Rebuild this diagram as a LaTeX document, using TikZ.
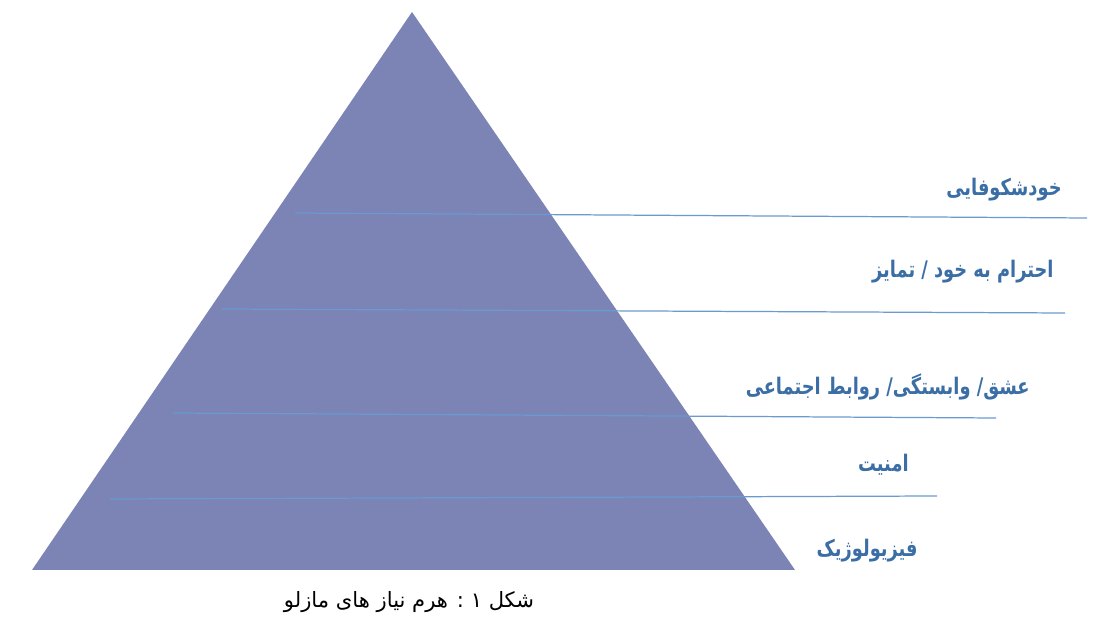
\documentclass[tikz,border=0pt]{standalone}
\usepackage{fontspec}
\usepackage{tikz}
\usetikzlibrary{positioning}
\newfontfamily\farsifont[Script=Arabic]{DejaVu Sans}
\newfontfamily\levelfont[Script=Arabic,FakeStretch=0.78]{DejaVu Sans}
\TeXXeTstate=1

\definecolor{pyramidfill}{RGB}{123,132,180}
\definecolor{levelline}{RGB}{106,154,208}
\definecolor{leveltext}{RGB}{58,110,165}

\begin{document}
\begin{tikzpicture}[x=0.02cm,y=-0.02cm,
    level/.style={anchor=east,inner sep=0pt,text=leveltext,font=\levelfont\bfseries\fontsize{13}{15}\selectfont},
    divider/.style={draw=levelline,line width=0.7pt}]

  \useasboundingbox (0,0) rectangle (1103,631);

  \fill [pyramidfill] (412,12) coordinate (P_top) -- (795,570) coordinate (P_right)
    -- (32,570) coordinate (P_left) -- cycle;

  \coordinate (D_1a) at (295,213);  \coordinate (D_1b) at (1087,218);
  \coordinate (D_2a) at (222,309);  \coordinate (D_2b) at (1065,313);
  \coordinate (D_3a) at (173,413);  \coordinate (D_3b) at (996,418);
  \coordinate (D_4a) at (110,499);  \coordinate (D_4b) at (937,496);

  \path [divider]
    (D_1a) edge (D_1b)
    (D_2a) edge (D_2b)
    (D_3a) edge (D_3b)
    (D_4a) edge (D_4b);

  \node [level] (L_5) at (1062,190) {\beginR خودشکوفایی\endR};
  \node [level] (L_4) at (1054,272) {\beginR احترام به خود / تمایز\endR};
  \node [level] (L_3) at (1030,387) {\beginR عشق/ وابستگی/ روابط اجتماعی\endR};
  \node [level] (L_2) at (909,465)  {\beginR امنیت\endR};
  \node [level] (L_1) at (918,551)  {\beginR فیزیولوژیک\endR};

  \node [inner sep=0pt,font=\farsifont\fontsize{12}{14}\selectfont] (caption) at (409,602)
    {\beginR شکل ۱ : هرم نیاز های مازلو\endR};

\end{tikzpicture}
\end{document}
